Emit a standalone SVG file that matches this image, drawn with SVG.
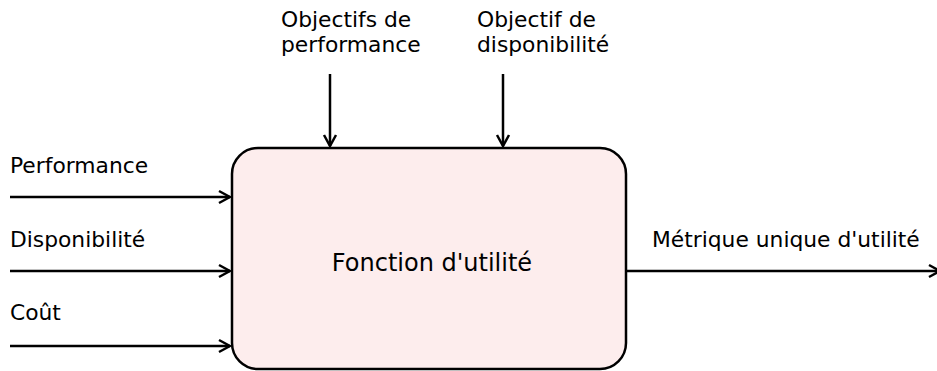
<svg xmlns="http://www.w3.org/2000/svg" width="937" height="371" viewBox="0 0 937 371">
<style>
text{font-family:"DejaVu Sans",sans-serif;font-size:21.8px;fill:#000}
.big{font-size:24px}
.c{fill:none;stroke:#000;stroke-width:2.5}
</style>
<defs>
<marker id="ah" viewBox="-12 -8 14 16" markerWidth="14" markerHeight="16" refX="0" refY="0" orient="auto" markerUnits="userSpaceOnUse">
<path d="M-11,-6 L0,0 L-11,6" fill="none" stroke="#000" stroke-width="2.5"/>
</marker>
</defs>
<rect width="937" height="371" fill="#fff"/>
<g id="node-fonction">
<rect x="232" y="148" width="394" height="221" rx="26" ry="26" fill="#fdeded" stroke="#000" stroke-width="2.5"/>
<text class="big" x="432" y="271" text-anchor="middle">Fonction d'utilité</text>
</g>
<g id="labels">
<text x="10" y="173">Performance</text>
<text x="10" y="247">Disponibilité</text>
<text x="10" y="320">Coût</text>
<text x="281" y="27">Objectifs de</text>
<text x="281" y="52">performance</text>
<text x="477" y="27">Objectif de</text>
<text x="477" y="52">disponibilité</text>
<text x="652" y="247">Métrique unique d'utilité</text>
</g>
<g id="connectors">
<line class="c" x1="10" y1="197" x2="230" y2="197" marker-end="url(#ah)"/>
<line class="c" x1="10" y1="271" x2="230" y2="271" marker-end="url(#ah)"/>
<line class="c" x1="10" y1="346" x2="230" y2="346" marker-end="url(#ah)"/>
<line class="c" x1="330" y1="74" x2="330" y2="146" marker-end="url(#ah)"/>
<line class="c" x1="503" y1="74" x2="503" y2="146" marker-end="url(#ah)"/>
<line class="c" x1="626" y1="271" x2="940" y2="271" marker-end="url(#ah)"/>
</g>
</svg>
